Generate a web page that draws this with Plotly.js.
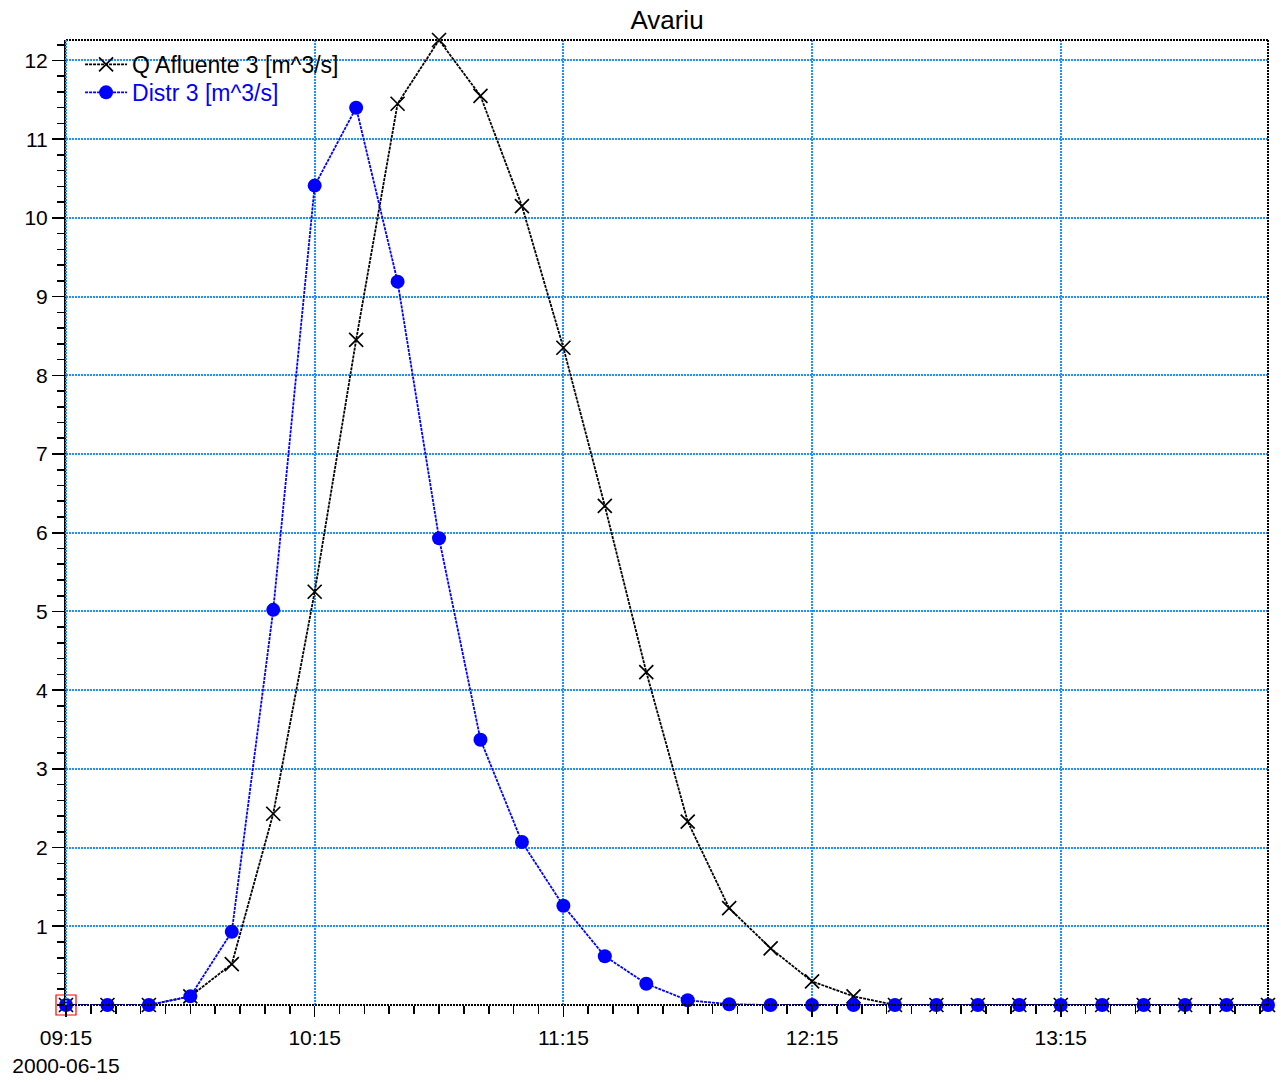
<!DOCTYPE html>
<html>
<head>
<meta charset="utf-8">
<script src="https://cdn.plot.ly/plotly-3.0.1.min.js"></script>
<style>html,body{margin:0;padding:0;background:#fff;}#chart{width:1281px;height:1082px;}</style>
</head>
<body>
<div id="chart"></div>
<script>
const times = ['2000-06-15 09:15','2000-06-15 09:25','2000-06-15 09:35','2000-06-15 09:45','2000-06-15 09:55',
  '2000-06-15 10:05','2000-06-15 10:15','2000-06-15 10:25','2000-06-15 10:35','2000-06-15 10:45',
  '2000-06-15 10:55','2000-06-15 11:05','2000-06-15 11:15','2000-06-15 11:25','2000-06-15 11:35',
  '2000-06-15 11:45','2000-06-15 11:55','2000-06-15 12:05','2000-06-15 12:15','2000-06-15 12:25',
  '2000-06-15 12:35','2000-06-15 12:45','2000-06-15 12:55','2000-06-15 13:05','2000-06-15 13:15',
  '2000-06-15 13:25','2000-06-15 13:35','2000-06-15 13:45','2000-06-15 13:55','2000-06-15 14:05'];
const qAfluente = [0,0,0,0.11,0.52,2.43,5.25,8.45,11.45,12.26,11.55,10.15,8.35,6.34,4.23,2.33,1.23,0.72,0.30,0.11,0,0,0,0,0,0,0,0,0,0];
const distr = [0,0,0,0.11,0.93,5.02,10.41,11.40,9.19,5.93,3.37,2.07,1.26,0.62,0.27,0.06,0.01,0,0,0,0,0,0,0,0,0,0,0,0,0];
const xTickVals = ['2000-06-15 09:15','2000-06-15 10:15','2000-06-15 11:15','2000-06-15 12:15','2000-06-15 13:15'];
const xTickText = ['09:15<br>2000-06-15','10:15','11:15','12:15','13:15'];
const yTickVals = [1,2,3,4,5,6,7,8,9,10,11,12];
const seriesNames = ['Q Afluente 3 [m^3/s]','Distr 3 [m^3/s]'];

const font = "'Liberation Sans', Arial, sans-serif";
const traces = [
  {x: times, y: qAfluente, name: seriesNames[0], type: 'scatter', mode: 'lines+markers', cliponaxis: false, legend: 'legend',
   line: {color: '#000000', width: 1.8, dash: '3px,1px'},
   marker: {symbol: 'x-thin-open', size: 14, color: '#000000', line: {color: '#000000', width: 1.7}}},
  {x: times, y: distr, name: '<span style="color:#0000ff">' + seriesNames[1] + '</span>', type: 'scatter', mode: 'lines+markers', cliponaxis: false, legend: 'legend2',
   line: {color: '#0000ff', width: 1.8, dash: '3px,1px'},
   marker: {symbol: 'circle', size: 14, color: '#0000ff'}},
  {x: [times[0]], y: [distr[0]], type: 'scatter', mode: 'markers', showlegend: false, cliponaxis: false,
   marker: {symbol: 'square-open', size: 20, color: '#ff0000', line: {color: '#ff0000', width: 1.2}}}
];

const legendBase = {xanchor: 'left', yanchor: 'top', bgcolor: 'rgba(0,0,0,0)',
  font: {family: font, size: 23, color: '#000000'}, itemwidth: 42, tracegroupgap: 0};

const layout = {
  width: 1281, height: 1082,
  margin: {l: 66, r: 13, t: 40, b: 77},
  paper_bgcolor: '#ffffff', plot_bgcolor: '#ffffff',
  font: {family: font, size: 21, color: '#000000'},
  title: {text: 'Avariu', font: {family: font, size: 26, color: '#000000'}, xref: 'paper', x: 0.5, xanchor: 'center', y: 0.982, yanchor: 'middle'},
  showlegend: true,
  legend: Object.assign({}, legendBase, {x: 0.0117, y: 0.997}),
  legend2: Object.assign({}, legendBase, {x: 0.0117, y: 0.968, font: {family: font, size: 23, color: '#0000ff'}}),
  xaxis: {type: 'date', range: ['2000-06-15 09:15','2000-06-15 14:05'],
    tickmode: 'array', tickvals: xTickVals, ticktext: xTickText,
    ticks: 'outside', ticklen: 11, tickwidth: 1.6, tickcolor: '#000', ticklabelstandoff: 3,
    showgrid: true, gridcolor: '#1e90ff', gridwidth: 2, griddash: '2px,1px',
    showline: false, zeroline: false,
    tickfont: {family: font, size: 21},
    minor: {tick0: '2000-06-15 09:15', dtick: 360000, ticks: 'outside', ticklen: 8, tickwidth: 1.6, tickcolor: '#000', showgrid: false}
  },
  yaxis: {range: [0, 12.26], tickmode: 'array', tickvals: yTickVals,
    ticks: 'outside', ticklen: 12, tickwidth: 1.6, tickcolor: '#000',
    showgrid: true, gridcolor: '#1e90ff', gridwidth: 2, griddash: '2px,1px',
    showline: true, linecolor: '#000', linewidth: 2, zeroline: false,
    tickfont: {family: font, size: 21},
    minor: {dtick: 0.2, tick0: 0, ticks: 'outside', ticklen: 7, tickwidth: 1.6, tickcolor: '#000', showgrid: false}
  },
  shapes: [
    {type: 'line', xref: 'paper', yref: 'paper', x0: 0, x1: 1, y0: 1, y1: 1, line: {color: '#000', width: 2, dash: '2px,1px'}},
    {type: 'line', xref: 'paper', yref: 'paper', x0: 1, x1: 1, y0: 0, y1: 1, line: {color: '#000', width: 2, dash: '2px,1px'}},
    {type: 'line', xref: 'paper', yref: 'paper', x0: 0, x1: 1, y0: 0, y1: 0, line: {color: '#000', width: 2, dash: '2px,1px'}},
    {type: 'line', xref: 'paper', yref: 'paper', x0: 0, x1: 0, y0: 0, y1: 1, line: {color: '#1e90ff', width: 2, dash: '2px,1px'}}
  ]
};
Plotly.newPlot('chart', traces, layout, {displayModeBar: false, staticPlot: true});
</script>
</body>
</html>
